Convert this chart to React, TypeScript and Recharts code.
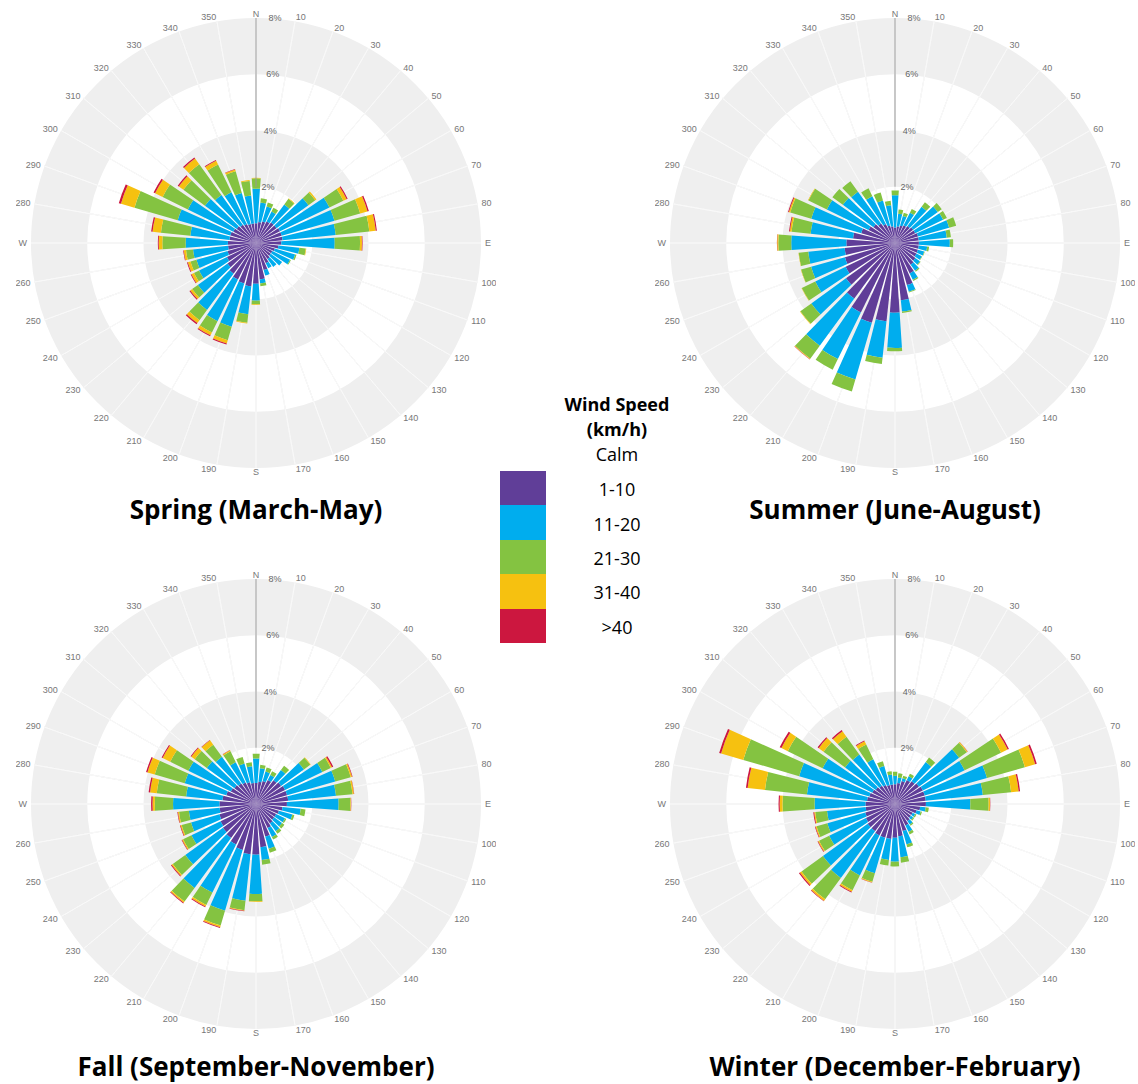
import React from 'react';
import { RadialBarChart, RadialBar, PolarAngleAxis, PolarRadiusAxis, PolarGrid } from 'recharts';

// ---------- data ----------
const directions = [0, 10, 20, 30, 40, 50, 60, 70, 80, 90, 100, 110, 120, 130, 140, 150, 160, 170,
  180, 190, 200, 210, 220, 230, 240, 250, 260, 270, 280, 290, 300, 310, 320, 330, 340, 350];
const compassLabels: Record<number, string> = { 0: 'N', 90: 'E', 180: 'S', 270: 'W' };
const radiusTicks = [2, 4, 6, 8];
const speedBands = ['1-10', '11-20', '21-30', '31-40', '>40'];
const bandColors = ['#603e98', '#00adee', '#84c341', '#f6c110', '#cc173f'];

// Spring (% frequency per speed band, per direction)
const spring1 = [0.70,0.75,0.80,0.85,0.90,0.90,0.95,0.95,0.95,0.90,0.80,0.70,0.65,0.65,0.70,0.80,1.00,1.30,1.45,1.55,1.50,1.45,1.35,1.25,1.15,1.05,1.00,1.00,0.95,0.95,0.90,0.85,0.80,0.75,0.70,0.70];
const spring2 = [1.23,0.70,0.55,0.40,0.80,1.40,1.95,1.95,1.90,1.90,0.75,0.75,0.70,0.50,0.35,0.20,0.20,0.15,0.60,1.00,1.60,1.65,1.60,1.30,1.10,1.15,1.25,1.50,1.40,1.95,1.80,1.40,1.30,1.25,1.15,1.00];
const spring3 = [0.37,0.15,0.15,0.15,0.25,0.30,0.55,0.95,1.20,0.90,0.23,0.05,0.03,0,0,0,0,0.10,0.13,0.30,0.50,0.45,0.45,0.25,0.20,0.22,0.25,0.83,1.05,1.60,1.00,0.95,1.35,1.10,0.80,0.52];
const spring4 = [0.02,0,0,0,0.02,0.05,0.13,0.27,0.23,0.07,0.02,0,0,0,0,0,0,0,0.02,0.03,0.12,0.11,0.13,0.08,0.10,0.10,0.08,0.13,0.30,0.50,0.30,0.20,0.25,0.15,0.07,0.03];
const spring5 = [0,0,0,0,0,0,0.04,0.05,0.04,0.02,0,0,0,0,0,0,0,0,0,0,0.04,0.04,0.05,0.04,0.03,0.03,0.02,0.03,0.05,0.08,0.06,0.05,0.05,0.03,0.01,0];

// Summer
const summer1 = [0.55,0.60,0.65,0.70,0.75,0.80,0.80,0.85,0.85,0.85,0.85,0.85,0.85,0.90,0.95,1.20,1.55,2.05,2.48,2.80,2.95,2.75,2.45,2.15,1.95,1.85,1.80,1.73,1.50,1.25,1.05,0.95,0.85,0.75,0.65,0.60];
const summer2 = [1.15,0.45,0.35,0.50,0.85,1.08,1.10,1.15,1.00,1.10,0.30,0.23,0.21,0.20,0.27,0.25,0.25,0.40,1.25,1.30,2.10,1.85,2.08,1.52,1.20,1.25,1.30,1.96,1.52,1.85,1.65,1.35,1.40,1.10,0.92,0.75];
const summer3 = [0.17,0.15,0.12,0.15,0.20,0.17,0.15,0.26,0.15,0.12,0.07,0.02,0.02,0.03,0.04,0.05,0.03,0.05,0.12,0.23,0.45,0.42,0.57,0.48,0.53,0.37,0.34,0.46,0.68,0.78,0.73,0.46,0.46,0.31,0.30,0.16];
const summer4 = [0,0,0,0,0,0,0,0,0,0,0,0,0,0,0,0,0,0,0,0,0,0,0.02,0.02,0.01,0.01,0.01,0.04,0.06,0.05,0.02,0,0,0,0,0];
const summer5 = [0,0,0,0,0,0,0,0,0,0,0,0,0,0,0,0,0,0,0,0,0,0,0.01,0,0,0,0,0.01,0.03,0.03,0,0,0,0,0,0];

// Fall
const fall1 = [0.75,0.80,0.85,0.95,1.05,1.10,1.15,1.15,1.15,1.10,0.95,0.85,0.80,0.80,0.85,0.95,1.20,1.55,1.80,1.80,1.70,1.60,1.50,1.45,1.40,1.35,1.30,1.30,1.20,1.10,1.00,0.95,0.90,0.85,0.80,0.75];
const fall2 = [0.87,0.48,0.35,0.20,0.45,1.00,1.47,1.78,1.71,1.84,0.65,0.50,0.35,0.35,0.35,0.35,0.45,0.45,1.40,1.66,2.25,1.91,2.20,1.65,1.15,1.05,1.10,1.65,1.30,1.54,1.68,1.22,1.17,0.80,0.70,0.60];
const fall3 = [0.17,0.12,0.15,0.15,0.19,0.28,0.33,0.57,0.59,0.42,0.17,0.07,0.05,0.10,0.10,0.10,0.15,0.17,0.26,0.34,0.55,0.49,0.60,0.55,0.33,0.35,0.35,0.65,1.05,1.11,0.72,0.53,0.53,0.43,0.24,0.14];
const fall4 = [0,0,0,0,0,0.02,0.05,0.05,0.05,0.02,0,0,0,0,0,0,0,0,0.02,0.02,0.06,0.06,0.05,0.05,0.04,0.04,0.04,0.08,0.24,0.27,0.30,0.15,0.19,0.04,0,0];
const fall5 = [0,0,0,0,0,0,0.05,0.02,0.01,0.01,0,0,0,0,0,0,0,0,0,0.02,0.03,0.03,0.03,0.03,0.02,0.02,0.02,0.05,0.05,0.05,0.04,0.03,0.02,0.01,0,0];

// Winter
const winter1 = [0.70,0.75,0.85,0.95,1.00,1.05,1.10,1.10,1.10,1.10,0.90,0.80,0.70,0.70,0.75,0.85,1.00,1.15,1.20,1.25,1.25,1.25,1.20,1.20,1.15,1.10,1.05,1.05,1.00,0.95,0.90,0.85,0.80,0.75,0.70,0.70];
const winter2 = [0.30,0.20,0.10,0.15,0.85,1.76,1.65,2.30,2.04,1.58,0.20,0.15,0.10,0.10,0.15,0.25,0.50,0.75,0.85,0.75,1.31,1.58,2.06,1.96,1.45,1.40,1.38,1.81,2.15,2.60,1.97,1.35,1.37,1.02,0.70,0.35];
const winter3 = [0.15,0.15,0.10,0.10,0.20,0.34,1.44,1.40,1.01,0.65,0.11,0.05,0.05,0.05,0.05,0.10,0.10,0.20,0.17,0.20,0.32,0.59,0.94,0.94,0.40,0.40,0.42,1.14,1.50,2.07,1.38,0.95,0.78,0.58,0.18,0.12];
const winter4 = [0,0,0,0,0,0.03,0.26,0.38,0.27,0.05,0,0,0,0,0,0,0,0,0,0,0.03,0.06,0.07,0.07,0.04,0.04,0.04,0.10,0.62,0.82,0.25,0.21,0.24,0.13,0,0];
const winter5 = [0,0,0,0,0,0.01,0.05,0.06,0.05,0.01,0,0,0,0,0,0,0,0,0,0,0.01,0.03,0.02,0.04,0.02,0.02,0.03,0.04,0.06,0.07,0.07,0.05,0.05,0.03,0,0];

const seasons = [
  { title: 'Spring (March-May)', cx: 256, cy: 243, titleTop: 496, bands: [spring1, spring2, spring3, spring4, spring5] },
  { title: 'Summer (June-August)', cx: 895, cy: 243, titleTop: 496, bands: [summer1, summer2, summer3, summer4, summer5] },
  { title: 'Fall (September-November)', cx: 256, cy: 804, titleTop: 1053, bands: [fall1, fall2, fall3, fall4, fall5] },
  { title: 'Winter (December-February)', cx: 895, cy: 804, titleTop: 1053, bands: [winter1, winter2, winter3, winter4, winter5] },
];

// ---------- geometry / style ----------
const SIZE = 480;
const C = SIZE / 2;
const OUTER = 225;
const MAXPCT = 8;
const pxPerPct = OUTER / MAXPCT;
const ringGray = '#efefef';
const START_ANGLE = 85;           // so that each 10° band is centred on its direction
const END_ANGLE = START_ANGLE - 360;
const LABEL_TURN = 5;             // category ticks sit at the band edge; turn labels onto band centre
const gridAngles = directions.map((d) => 90 - d);

const AngleTick = (props: any) => {
  const { x, y, payload } = props;
  const dx = x - C;
  const dy = y - C;
  const r = Math.hypot(dx, dy);
  const a = Math.atan2(-dy, dx) + (LABEL_TURN * Math.PI) / 180;
  const nx = C + r * Math.cos(a);
  const ny = C - r * Math.sin(a);
  const c = Math.cos(a);
  const anchor = c > 0.02 ? 'start' : c < -0.02 ? 'end' : 'middle';
  const v = Number(payload.value);
  const label = compassLabels[v] ?? String(v);
  return (
    <text x={nx} y={ny} textAnchor={anchor} dominantBaseline="central" fontSize={9}
      fill="#777" fontFamily="'Liberation Sans', Arial, sans-serif">{label}</text>
  );
};

const RadiusTick = (props: any) => {
  const { x, y, payload } = props;
  const v = Number(payload.value);
  return (
    <text x={x + 3 + v * 1.2} y={y} textAnchor="start" dominantBaseline="central" fontSize={9}
      fill="#666" fontFamily="'Liberation Sans', Arial, sans-serif">{v}%</text>
  );
};

function WindRose({ bands }: { bands: number[][] }) {
  const rows = directions.map((d, i) => {
    const row: any = { dir: d };
    speedBands.forEach((b, k) => { row[b] = bands[k][i]; });
    return row;
  });
  return (
    <RadialBarChart width={SIZE} height={SIZE} cx={C} cy={C} data={rows} layout="centric"
      startAngle={START_ANGLE} endAngle={END_ANGLE} innerRadius={0} outerRadius={OUTER} barCategoryGap="8%"
      margin={{ top: 0, right: 0, bottom: 0, left: 0 }}>
      <PolarGrid gridType="circle" polarRadius={[]} polarAngles={gridAngles} stroke="#e4e4e4" strokeWidth={0.9} />
      <PolarGrid gridType="circle" radialLines={false}
        polarRadius={[3 * pxPerPct, 7 * pxPerPct]} stroke={ringGray} strokeWidth={2 * pxPerPct} />
      <PolarGrid gridType="circle" polarRadius={[]} polarAngles={gridAngles}
        innerRadius={6 * pxPerPct} outerRadius={8 * pxPerPct} stroke="#f8f8f8" strokeWidth={0.9} />
      <PolarGrid gridType="circle" polarRadius={[]} polarAngles={gridAngles}
        innerRadius={2 * pxPerPct} outerRadius={4 * pxPerPct} stroke="#f8f8f8" strokeWidth={0.9} />
      <PolarAngleAxis dataKey="dir" type="category" axisLine={false} tickLine={false} tickSize={4} tick={<AngleTick />} />
      <PolarRadiusAxis angle={90} type="number" domain={[0, MAXPCT]} ticks={radiusTicks} tick={<RadiusTick />}
        axisLine={{ stroke: '#999', strokeWidth: 1 }} tickLine={false} />
      {speedBands.map((b, k) => (
        <RadialBar key={b} dataKey={b} stackId="w" fill={bandColors[k]} isAnimationActive={false} />
      ))}
      <PolarRadiusAxis radiusAxisId="south" angle={270} type="number" domain={[0, MAXPCT]} tick={false}
        axisLine={{ stroke: '#999', strokeWidth: 1 }} tickLine={false} />
    </RadialBarChart>
  );
}

const legendCenterX = 617;
const swatchTop = 471;
const swatchH = 34.4;

export default function App() {
  const font = "'Open Sans', 'Noto Sans', sans-serif";
  return (
    <div style={{ position: 'absolute', left: 0, top: 0, width: 1138, height: 1084, background: '#fff', overflow: 'hidden', fontFamily: font, color: '#000' }}>
      {seasons.map((s) => (
        <React.Fragment key={s.title}>
          <div style={{ position: 'absolute', left: s.cx - C, top: s.cy - C, width: SIZE, height: SIZE }}>
            <WindRose bands={s.bands} />
          </div>
          <div style={{ position: 'absolute', left: s.cx - 270, width: 540, top: s.titleTop, textAlign: 'center', fontSize: 26, lineHeight: '27px', fontWeight: 700, whiteSpace: 'nowrap' }}>
            {s.title}
          </div>
        </React.Fragment>
      ))}
      {/* legend */}
      <div style={{ position: 'absolute', left: legendCenterX - 80, width: 160, top: 392, textAlign: 'center', fontSize: 18, lineHeight: '25px', fontWeight: 700 }}>
        Wind Speed<br />(km/h)
      </div>
      <div style={{ position: 'absolute', left: legendCenterX - 60, width: 120, top: 444, textAlign: 'center', fontSize: 18, lineHeight: '20px' }}>Calm</div>
      {speedBands.map((b, k) => (
        <React.Fragment key={b}>
          <div style={{ position: 'absolute', left: 500, top: swatchTop + k * swatchH, width: 46, height: swatchH + 0.5, background: bandColors[k] }} />
          <div style={{ position: 'absolute', left: legendCenterX - 60, width: 120, top: swatchTop + k * swatchH + swatchH / 2 - 9, textAlign: 'center', fontSize: 18, lineHeight: '20px' }}>{b}</div>
        </React.Fragment>
      ))}
    </div>
  );
}
